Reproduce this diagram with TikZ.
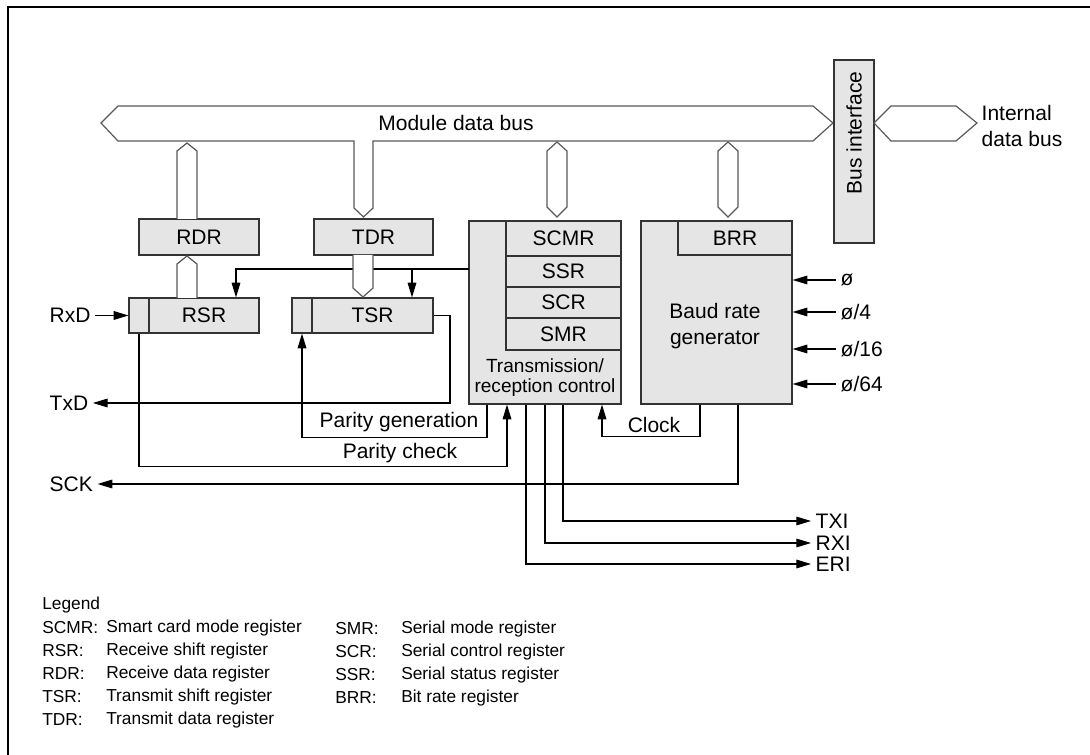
\documentclass[tikz,border=0pt]{standalone}
\usepackage{fontspec}
\setmainfont{Liberation Sans}
\usetikzlibrary{arrows.meta}

\begin{document}
\begin{tikzpicture}[x=0.75pt,y=-0.75pt,>={Triangle[length=11pt,width=6.5pt]},
  font=\fontsize{15.75}{20}\selectfont,
  box/.style={draw=black!80,fill=gray!20,line width=0.9pt,inner sep=0pt},
  bus/.style={draw=black!65,fill=white,line width=0.9pt},
  wire/.style={line width=0.8pt},
  legend/.style={font=\fontsize{13}{15}\selectfont,anchor=west,inner sep=0pt}]
  \useasboundingbox (0,0) rectangle (1090,755);
  \draw[line width=2pt] (8,755) -- (8,7) -- (1090,7);

  % module data bus with the TDR branch
  \path[bus] (101,123) -- (118,106) -- (813,106) -- (833,123) -- (813,141)
    -- (373,141) -- (373,208) -- (363.5,217) -- (354,208) -- (354,141)
    -- (118,141) -- cycle;
  \node (mdblbl) at (456,123) {Module data bus};

  % registers
  \node[box,minimum width=90pt,minimum height=27pt] (rdr) at (199,237) {RDR};
  \node[box,minimum width=89.25pt,minimum height=27pt] (tdr) at (373.5,237) {TDR};
  \node[box,minimum width=15pt,minimum height=26.25pt] (rsrbit) at (139,315.5) {};
  \node[box,minimum width=82.5pt,minimum height=26.25pt] (rsr) at (204,315.5) {RSR};
  \node[box,minimum width=15pt,minimum height=26.25pt] (tsrbit) at (302,315.5) {};
  \node[box,minimum width=90.75pt,minimum height=26.25pt] (tsr) at (372.5,315.5) {TSR};

  % transmission/reception control
  \node[box,minimum width=114pt,minimum height=137.25pt] (ctrl) at (545,312.5) {};
  \node[box,minimum width=86.25pt,minimum height=26.25pt] (scmr) at (563.5,238.5) {SCMR};
  \node[box,minimum width=86.25pt,minimum height=23.25pt] (ssr) at (563.5,271.5) {SSR};
  \node[box,minimum width=86.25pt,minimum height=23.25pt] (scr) at (563.5,302.5) {SCR};
  \node[box,minimum width=86.25pt,minimum height=24pt] (smr) at (563.5,334) {SMR};
  \node[align=center,font=\fontsize{14.3}{15}\selectfont] (ctrllbl) at (545,378)
    {Transmission/\\reception control};

  % baud rate generator
  \node[box,minimum width=113.25pt,minimum height=137.25pt] (baud) at (716.5,312.5) {};
  \node[box,minimum width=85.5pt,minimum height=25.5pt] (brr) at (735,238) {BRR};
  \node[align=center,font=\fontsize{15.75}{19.5}\selectfont] (baudlbl) at (715,326)
    {Baud rate\\generator};

  % bus interface
  \node[box,minimum width=30pt,minimum height=137.25pt] (busif) at (854,151.5) {};
  \node[rotate=90] (busiflbl) at (854,133) {Bus interface};
  \path[bus] (874,123) -- (891,106) -- (956,106) -- (977,123) -- (956,141)
    -- (891,141) -- cycle;
  \node[anchor=west,align=left] (idb) at (977,126) {Internal\\data bus};

  % small buses
  \path[bus] (177,219) -- (177,151) -- (187,143) -- (197,151) -- (197,219);
  \path[bus] (547,151) -- (557,142) -- (567,151) -- (567,207) -- (557,217)
    -- (547,207) -- cycle;
  \path[bus] (718,151) -- (728,142) -- (738,151) -- (738,207) -- (728,217)
    -- (718,207) -- cycle;
  \path[bus] (177,298) -- (177,264) -- (187,256) -- (197,264) -- (197,298);

  % control to shift registers
  \coordinate (ctrlout) at (469,269);
  \coordinate (rsrin) at ([xshift=24pt]rsr.north);
  \coordinate (tsrin) at ([xshift=29.625pt]tsr.north);
  \draw[wire,->] (ctrlout) -| (rsrin);
  \draw[wire,->] (tsrin |- ctrlout) -- (tsrin);
  \path[bus] (353,255) -- (353,288) -- (363,297) -- (373,288) -- (373,255);

  % pins
  \node[anchor=west] (rxd) at (45,315.5) {RxD};
  \draw[wire,->] (rxd.east) -- (rsrbit.west);
  \node[anchor=west] (txd) at (45,403) {TxD};
  \coordinate (txdturn) at (450,403);
  \draw[wire,->] (tsr.east) -| (txdturn) -- (txd.east);
  \node[anchor=west] (sck) at (45,484) {SCK};
  \coordinate (sckout) at ([xshift=16.125pt]baud.south);
  \draw[wire,->] (sckout) |- (sck.east);

  % parity
  \coordinate (pgenout) at ([xshift=-43.5pt]ctrl.south);
  \draw[wire,->] (pgenout) -- ++(0,33) -| (tsrbit.south);
  \node (pgenlbl) at (399,422) {Parity generation};
  \coordinate (pchkin) at ([xshift=-28.5pt]ctrl.south);
  \draw[wire,<-] (pchkin) -- ++(0,62) -| (rsrbit.south);
  \node (pchklbl) at (400,453) {Parity check};

  % clock
  \coordinate (clkout) at ([xshift=-12.375pt]baud.south);
  \coordinate (clkin) at ([xshift=42.75pt]ctrl.south);
  \draw[wire,->] (clkout) -- ++(0,32) -| (clkin);
  \node (clklbl) at (654,425) {Clock};

  % interrupts
  \coordinate (txiout) at ([xshift=13.5pt]ctrl.south);
  \coordinate (rxiout) at (ctrl.south);
  \coordinate (eriout) at ([xshift=-14.25pt]ctrl.south);
  \node[anchor=west] (txi) at (811,521) {TXI};
  \node[anchor=west] (rxi) at (811,543) {RXI};
  \node[anchor=west] (eri) at (811,564) {ERI};
  \draw[wire,->] (txiout) |- (txi.west);
  \draw[wire,->] (rxiout) |- (rxi.west);
  \draw[wire,->] (eriout) |- (eri.west);

  % clock inputs
  \foreach \y/\lbl [count=\i] in {280/{ø},312/{ø/4},349/{ø/16},384/{ø/64}} {
    \node[anchor=west] (phi\i) at (836,\y) {\lbl};
    \draw[wire,->] (phi\i.west) -- (baud.east |- phi\i.west);
  }

  % legend
  \node[legend] (leg) at (42,605) {Legend};
  \foreach \ab/\txt [count=\i] in {SCMR:/Smart card mode register,
      RSR:/Receive shift register, RDR:/Receive data register,
      TSR:/Transmit shift register, TDR:/Transmit data register} {
    \node[legend] (la\i) at (42,{605+23*\i}) {\ab};
    \node[legend] (ld\i) at (106,{605+23*\i}) {\txt};
  }
  \foreach \ab/\txt [count=\i] in {SMR:/Serial mode register,
      SCR:/Serial control register, SSR:/Serial status register,
      BRR:/Bit rate register} {
    \node[legend] (lb\i) at (335,{606+23*\i}) {\ab};
    \node[legend] (le\i) at (401,{606+23*\i}) {\txt};
  }
\end{tikzpicture}
\end{document}
